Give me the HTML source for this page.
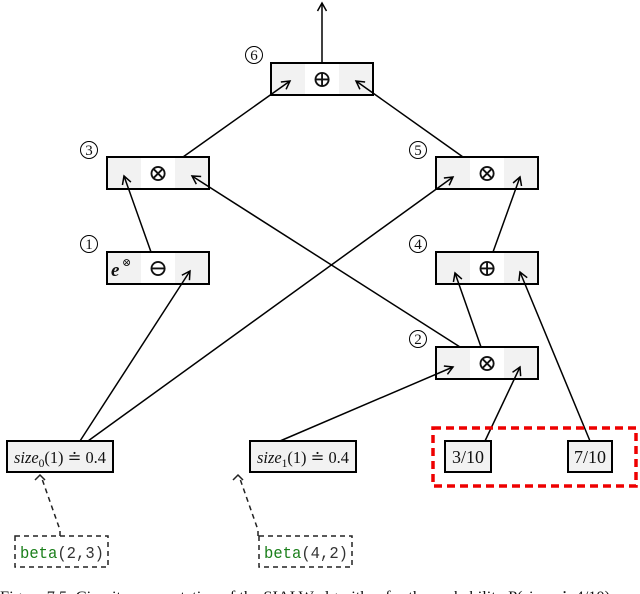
<!DOCTYPE html>
<html><head><meta charset="utf-8"><style>
html,body{margin:0;padding:0;background:#fff;}
svg{display:block;}
text{font-family:"Liberation Serif","DejaVu Serif",serif;fill:#111;}
.m{font-family:"Liberation Mono","DejaVu Sans Mono",monospace;}
</style></head><body>
<svg width="640" height="594" viewBox="0 0 640 594" xmlns="http://www.w3.org/2000/svg">
<defs>
<marker id="a" markerWidth="12" markerHeight="12" refX="9" refY="6" orient="auto" markerUnits="userSpaceOnUse">
<path d="M1,1.5 L9,6 L1,10.5" fill="none" stroke="#000" stroke-width="1.5"/>
</marker>
<g id="box">
<rect x="0" y="0" width="34" height="32" fill="#f2f2f2"/>
<rect x="34" y="0" width="34" height="32" fill="#fff"/>
<rect x="68" y="0" width="34" height="32" fill="#f2f2f2"/>
<rect x="0" y="0" width="102" height="32" fill="none" stroke="#000" stroke-width="2"/>
</g>
</defs>
<use href="#box" x="271" y="63"/>
<use href="#box" x="107" y="157"/>
<use href="#box" x="107" y="252"/>
<use href="#box" x="436" y="157"/>
<use href="#box" x="436" y="252"/>
<use href="#box" x="436" y="347"/>
<g font-size="24" text-anchor="middle" font-family="DejaVu Sans, sans-serif">
<text x="322" y="87" font-family="DejaVu Sans, sans-serif">⊕</text>
<text x="158" y="181" font-family="DejaVu Sans, sans-serif">⊗</text>
<text x="158" y="276" font-family="DejaVu Sans, sans-serif">⊖</text>
<text x="487" y="181" font-family="DejaVu Sans, sans-serif">⊗</text>
<text x="487" y="276" font-family="DejaVu Sans, sans-serif">⊕</text>
<text x="487" y="371" font-family="DejaVu Sans, sans-serif">⊗</text>
</g>
<text x="111" y="276" font-size="19" font-style="italic" font-weight="bold">e</text>
<text x="122" y="266" font-size="11" font-family="DejaVu Sans, sans-serif">⊗</text>
<g stroke="#000" stroke-width="1.5" fill="none">
<line x1="322" y1="63" x2="322" y2="3" marker-end="url(#a)"/>
<line x1="183" y1="157" x2="290" y2="81" marker-end="url(#a)"/>
<line x1="463" y1="157" x2="356" y2="81" marker-end="url(#a)"/>
<line x1="151" y1="252" x2="124" y2="176" marker-end="url(#a)"/>
<line x1="460" y1="347" x2="192" y2="176" marker-end="url(#a)"/>
<line x1="80" y1="441" x2="190" y2="271" marker-end="url(#a)"/>
<line x1="88" y1="441" x2="453" y2="177" marker-end="url(#a)"/>
<line x1="493" y1="252" x2="520" y2="177" marker-end="url(#a)"/>
<line x1="481" y1="347" x2="455" y2="273" marker-end="url(#a)"/>
<line x1="590" y1="441" x2="520" y2="272" marker-end="url(#a)"/>
<line x1="280" y1="441" x2="453" y2="367" marker-end="url(#a)"/>
<line x1="485" y1="441" x2="520" y2="367" marker-end="url(#a)"/>
</g>
<g stroke="#000" stroke-width="1" fill="none">
<circle cx="254" cy="55" r="8.5"/><circle cx="89" cy="150" r="8.5"/><circle cx="89" cy="244" r="8.5"/>
<circle cx="418" cy="150" r="8.5"/><circle cx="418" cy="244" r="8.5"/><circle cx="418" cy="339" r="8.5"/>
</g>
<g font-size="15" text-anchor="middle">
<text x="254" y="60">6</text><text x="89" y="155">3</text><text x="89" y="249">1</text>
<text x="418" y="155">5</text><text x="418" y="249">4</text><text x="418" y="344">2</text>
</g>
<rect x="7" y="441" width="106" height="31" fill="#f2f2f2" stroke="#000" stroke-width="2"/>
<rect x="250" y="441" width="106" height="31" fill="#f2f2f2" stroke="#000" stroke-width="2"/>
<rect x="445" y="441" width="46" height="31" fill="#f2f2f2" stroke="#000" stroke-width="2"/>
<rect x="568" y="441" width="44" height="31" fill="#f2f2f2" stroke="#000" stroke-width="2"/>
<text x="14" y="463" font-size="17" textLength="92" lengthAdjust="spacingAndGlyphs"><tspan font-style="italic">size</tspan><tspan font-size="12" dy="4">0</tspan><tspan dy="-4">(1) ≐ 0.4</tspan></text>
<text x="257" y="463" font-size="17" textLength="92" lengthAdjust="spacingAndGlyphs"><tspan font-style="italic">size</tspan><tspan font-size="12" dy="4">1</tspan><tspan dy="-4">(1) ≐ 0.4</tspan></text>
<text x="468" y="463" font-size="18" text-anchor="middle">3/10</text>
<text x="590" y="463" font-size="18" text-anchor="middle">7/10</text>
<rect x="433" y="428" width="203" height="58" fill="none" stroke="#e00" stroke-width="3.5" stroke-dasharray="8,5"/>
<g stroke="#222" stroke-width="1.5" fill="none" stroke-dasharray="5,4">
<rect x="15" y="536" width="93" height="31"/>
<rect x="259" y="536" width="93" height="31"/>
<polyline points="60,536 60,530 41,476"/>
<polyline points="258,536 258,530 239,476"/>
</g>
<g stroke="#222" stroke-width="1.5" fill="none">
<path d="M35,480 L40,475 L45,480"/>
<path d="M233,480 L238,475 L243,480"/>
</g>
<text x="20" y="558" font-size="17" class="m" textLength="84" lengthAdjust="spacingAndGlyphs"><tspan fill="#1a7f1a">beta</tspan><tspan fill="#333">(2,3)</tspan></text>
<text x="264" y="558" font-size="17" class="m" textLength="84" lengthAdjust="spacingAndGlyphs"><tspan fill="#1a7f1a">beta</tspan><tspan fill="#333">(4,2)</tspan></text>
<text x="0" y="601" font-size="15" fill="#222" textLength="610" lengthAdjust="spacingAndGlyphs">Figure 7.5: Circuit representation of the SIALW algorithm for the probability P(size₀ ≐ 4/10)</text>
</svg>
</body></html>
